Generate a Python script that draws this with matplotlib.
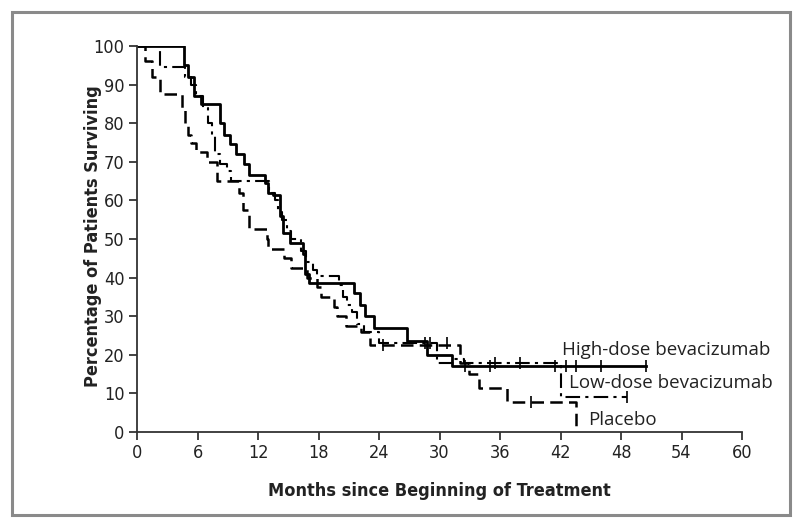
import matplotlib
matplotlib.use("Agg")
import matplotlib.pyplot as plt
from matplotlib.patches import Rectangle

plt.rcParams['font.family'] = ['DejaVu Sans']

# Kaplan-Meier step data (time in months, survival % after step)
high_t = [0, 4.65, 5.1, 5.7, 6.3, 8.2, 8.6, 9.2, 9.8, 10.6, 11.1, 12.7, 13.0, 13.5, 14.2, 14.5, 15.2,
          16.5, 16.7, 17.1, 21.5, 22.1, 22.6, 23.5, 26.8, 28.8, 31.2, 50.5]
high_s = [100, 95, 92, 87, 85, 80, 77, 74.5, 72, 69.5, 66.7, 64.5, 62, 61.5, 56, 51.5, 49,
          46, 41, 38.5, 36, 33, 30, 27, 23.5, 20, 17, 17]
high_cens_t = [32.5, 35, 41.5, 42.5, 43.5, 46, 50.5]
high_cens_s = [17, 17, 17, 17, 17, 17, 17]

low_t = [0, 2.3, 4.8, 5.4, 5.9, 6.5, 7.0, 7.4, 7.7, 8.2, 8.9, 9.3, 13.1, 13.7, 14.0, 14.4, 14.9, 15.3,
         16.3, 16.8, 17.5, 17.9, 20.0, 20.4, 20.8, 21.3, 21.8, 22.5, 24.0, 29.8, 31.4, 32.4, 42.0, 48.6]
low_s = [100, 94.5, 92, 90, 87, 84, 80, 77, 72, 69.5, 67.5, 65, 62, 60, 57, 55, 52, 50,
         47, 44, 42, 40.5, 38, 35, 33, 31, 28, 26, 23, 18, 19, 17.8, 9, 9]
low_cens_t = [28.6, 29.1, 30.7, 35.5, 38.0, 48.6]
low_cens_s = [23, 23, 23, 17.8, 17.8, 9]

plac_t = [0, 0.75, 1.5, 2.3, 4.5, 4.8, 5.1, 5.4, 5.9, 6.9, 7.9, 10.1, 10.5, 11.1, 12.9, 13.0, 14.6,
          15.3, 16.9, 17.9, 18.2, 19.5, 19.8, 20.7, 22.2, 23.1, 32.0, 32.9, 33.9, 36.7, 43.5, 43.5]
plac_s = [100, 96, 92, 87.5, 84, 80, 77, 75, 72.5, 70, 65, 62, 57.5, 52.5, 50, 47.5, 45,
          42.5, 40, 37.5, 35, 32.5, 30, 27.5, 26, 22.5, 18, 15, 11.5, 7.7, 0, 0]
plac_cens_t = [24.4, 39.1]
plac_cens_s = [22.5, 7.7]

x_ticks = [0, 6, 12, 18, 24, 30, 36, 42, 48, 54, 60]
y_ticks = [0, 10, 20, 30, 40, 50, 60, 70, 80, 90, 100]

fig = plt.figure(figsize=(8.0, 5.27), dpi=100)
fig.patch.set_facecolor('white')
fig.patches.append(Rectangle((12/800, 12/527), 778/800, 503/527, transform=fig.transFigure,
                             fill=False, edgecolor='#8a8a8a', linewidth=2.2))

ax = fig.add_axes([137/800, 95/527, 605/800, 386/527])

ax.step(high_t, high_s, where='post', color='black', lw=2.0, ls='-')
ax.step(low_t, low_s, where='post', color='black', lw=1.5, ls=(0, (7, 2.5, 1.5, 2.5)))
ax.step(plac_t, plac_s, where='post', color='black', lw=1.8, ls=(0, (5, 2.5)))

ax.plot(high_cens_t, high_cens_s, ls='none', marker='|', color='black', ms=8, mew=1.2)
ax.plot(low_cens_t, low_cens_s, ls='none', marker='|', color='black', ms=8, mew=1.2)
ax.plot(plac_cens_t, plac_cens_s, ls='none', marker='|', color='black', ms=8, mew=1.2)

ax.set_xlim(0, 60)
ax.set_ylim(0, 100)
ax.set_xticks(x_ticks)
ax.set_yticks(y_ticks)
ax.tick_params(direction='out', length=6, width=1.2, labelsize=13, colors='#222222', pad=3)
for lab in ax.get_xticklabels() + ax.get_yticklabels():
    lab.set_fontstretch('condensed')
for s in ['top', 'right']:
    ax.spines[s].set_visible(False)
for s in ['left', 'bottom']:
    ax.spines[s].set_linewidth(1.3)
    ax.spines[s].set_color('#333333')

ax.set_xlabel('Months since Beginning of Treatment', fontsize=13, fontweight='bold',
              fontstretch='condensed', labelpad=14, color='#222222')
ax.set_ylabel('Percentage of Patients Surviving', fontsize=13, fontweight='bold',
              fontstretch='condensed', color='#222222')
ax.yaxis.set_label_coords(-0.058, 0.508)

ax.text(42.1, 18.8, 'High-dose bevacizumab', fontsize=13.5, va='bottom', ha='left', color='#222222',
        family=['Open Sans', 'DejaVu Sans'])
ax.text(42.8, 12.7, 'Low-dose bevacizumab', fontsize=13.5, va='center', ha='left', color='#222222',
        family=['Open Sans', 'DejaVu Sans'])
ax.text(44.7, 3.0, 'Placebo', fontsize=13.5, va='center', ha='left', color='#222222',
        family=['Open Sans', 'DejaVu Sans'])

fig.savefig('out.png', dpi=100, facecolor='white')
